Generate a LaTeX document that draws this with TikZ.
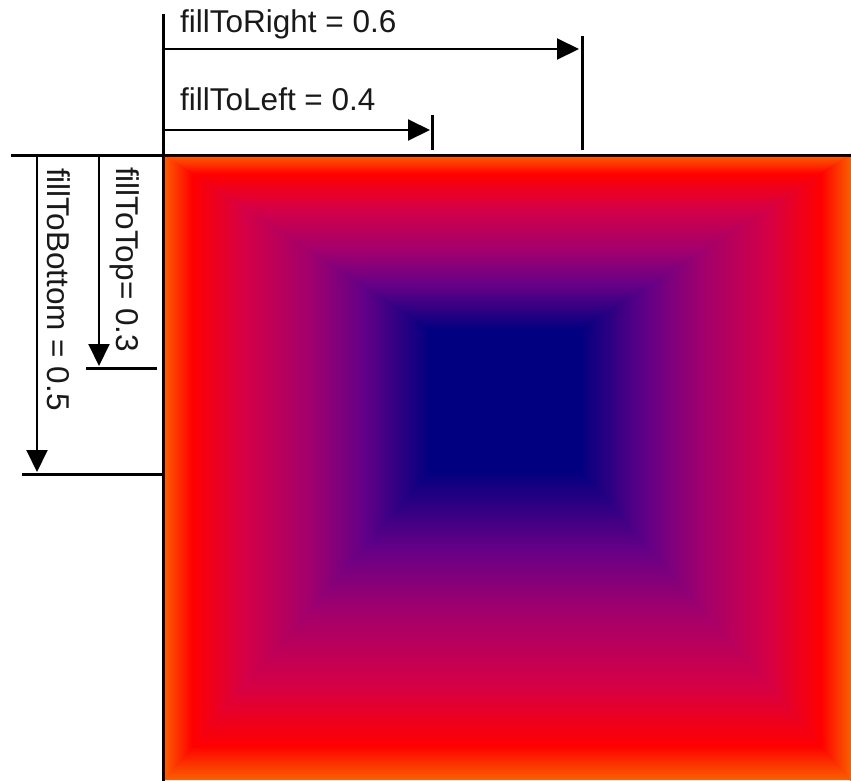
\documentclass[tikz,border=0pt]{standalone}
\usepackage{fontspec}
\setmainfont{Liberation Sans}
\usetikzlibrary{arrows.meta}
\pgfdeclareverticalshading{pyr}{100bp}{rgb(0bp)=(0,0,0.5); rgb(25bp)=(0,0,0.5); rgb(30bp)=(0.16,0,0.51); rgb(37.5bp)=(0.39,0,0.53); rgb(47.5bp)=(0.63,0,0.43); rgb(60bp)=(0.84,0,0.27); rgb(69.5bp)=(1,0,0); rgb(75bp)=(0.98,0.38,0); rgb(100bp)=(0.98,0.38,0)}
\definecolor{navyc}{RGB}{0,0,128}
\begin{document}
\begin{tikzpicture}[x=1pt, y=-1pt,
  font=\fontsize{31.5}{36}\selectfont,
  borderline/.style={line width=3pt, black, line cap=rect},
  barline/.style={line width=3pt, black},
  shaft/.style={line width=2pt, black, -{Triangle[length=22pt,width=21pt]}},
  lbl/.style={inner sep=0pt, anchor=base west, text=black!90}]
\useasboundingbox (0,0) rectangle (851,780);
\fill[white] (0,0) rectangle (851,780);
% box geometry
\coordinate (TL) at (163,155);
\coordinate (TR) at (851,155);
\coordinate (BL) at (163,780);
\coordinate (BR) at (851,780);
\coordinate (iTL) at (430,330);
\coordinate (iTR) at (580,330);
\coordinate (iBL) at (430,470);
\coordinate (iBR) at (580,470);
% rectangular gradient as four shaded faces
\shade[shading=pyr] (TL) -- (TR) -- (iTR) -- (iTL) -- cycle;
\shade[shading=pyr, shading angle=180] (BL) -- (BR) -- (iBR) -- (iBL) -- cycle;
\shade[shading=pyr, shading angle=90] ([yshift=1.5pt]TL) -- ([yshift=1.5pt]iTL) -- ([yshift=-1.5pt]iBL) -- ([yshift=-1.5pt]BL) -- cycle;
\shade[shading=pyr, shading angle=-90] ([yshift=1.5pt]TR) -- ([yshift=1.5pt]iTR) -- ([yshift=-1.5pt]iBR) -- ([yshift=-1.5pt]BR) -- cycle;
\fill[navyc] ([shift={(-1pt,1pt)}]iTL) rectangle ([shift={(1pt,-1pt)}]iBR);
% border lines
\coordinate (hL) at (12,155);
\coordinate (vT) at (163,15);
\draw[borderline] (hL) -- (TR);
\draw[borderline] (vT) -- (BL);
% end bars
\coordinate (rBarT) at (582,36);
\coordinate (rBarB) at (582,150);
\coordinate (lBarT) at (432,115);
\coordinate (lBarB) at (432,150);
\coordinate (tBarL) at (86,368);
\coordinate (tBarR) at (157,368);
\coordinate (bBarL) at (22,474);
\coordinate (bBarR) at (163,474);
\draw[barline] (rBarT) -- (rBarB);
\draw[barline] (lBarT) -- (lBarB);
\draw[barline] (tBarL) -- (tBarR);
\draw[barline] (bBarL) -- (bBarR);
% arrows
\coordinate (rS) at (163,49);
\coordinate (rE) at (579,49);
\coordinate (lS) at (163,130);
\coordinate (lE) at (430,130);
\coordinate (tS) at (99,155);
\coordinate (tE) at (99,366);
\coordinate (bS) at (37,155);
\coordinate (bE) at (37,472);
\draw[shaft] (rS) -- (rE);
\draw[shaft] (lS) -- (lE);
\draw[shaft] (tS) -- (tE);
\draw[shaft] (bS) -- (bE);
% labels
\node[lbl] (rT) at (180,32) {fillToRight = 0.6};
\node[lbl] (lT) at (180,110) {fillToLeft = 0.4};
\node[lbl, rotate=-90] (tT) at (116,167) {fillToTop= 0.3};
\node[lbl, rotate=-90] (bT) at (47,168) {fillToBottom = 0.5};
\end{tikzpicture}
\end{document}
